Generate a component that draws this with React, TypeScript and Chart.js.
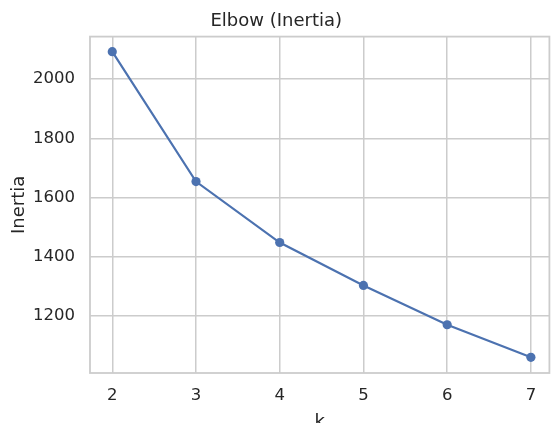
import React, { useEffect, useRef } from "react";
import { Chart, registerables } from "chart.js";

Chart.register(...registerables);

const kValues = [2, 3, 4, 5, 6, 7];
const inertia = [2093, 1654, 1448, 1303, 1170, 1060];
const xTicks = [2, 3, 4, 5, 6, 7];
const yTicks = [1200, 1400, 1600, 1800, 2000];

const TEXT = "#262626";
const GRID = "#cccccc";
const FONT = "'DejaVu Sans', sans-serif";

const framePlugin = {
  id: "frame",
  beforeDatasetsDraw(chart: any) {
    const { ctx, chartArea } = chart;
    ctx.save();
    ctx.strokeStyle = GRID;
    ctx.lineWidth = 1.8;
    ctx.strokeRect(chartArea.left, chartArea.top, chartArea.right - chartArea.left, chartArea.bottom - chartArea.top);
    ctx.restore();
  },
};

export default function App() {
  const ref = useRef<HTMLCanvasElement | null>(null);
  useEffect(() => {
    if (!ref.current) return;
    const chart = new Chart(ref.current, {
      type: "line",
      data: {
        datasets: [
          {
            data: kValues.map((k, i) => ({ x: k, y: inertia[i] })),
            borderColor: "#4c72b0",
            backgroundColor: "#4c72b0",
            borderWidth: 2.2,
            pointRadius: 4.6,
            pointHoverRadius: 4.6,
            pointBorderWidth: 0,
            tension: 0,
            clip: false as any,
          },
        ],
      },
      plugins: [framePlugin],
      options: {
        animation: false,
        responsive: false,
        layout: { padding: { left: 0, right: 1.5, top: 0, bottom: 0 } },
        plugins: {
          legend: { display: false },
          tooltip: { enabled: false },
          title: {
            display: true,
            text: "Elbow (Inertia)",
            color: TEXT,
            font: { family: FONT, size: 18, weight: "normal", lineHeight: 1.2 },
            padding: { top: 11, bottom: 4 },
          },
        },
        scales: {
          x: {
            type: "linear",
            min: 1.734,
            max: 7.221,
            afterBuildTicks: (s: any) => {
              s.ticks = xTicks.map((v) => ({ value: v }));
            },
            afterFit: (s: any) => {
              s.height = 50;
              s.paddingLeft = 0;
              s.paddingRight = 0;
            },
            grid: { color: GRID, lineWidth: 1.5, drawTicks: false },
            border: { display: false },
            ticks: {
              color: TEXT,
              padding: 13,
              font: { family: FONT, size: 16.5 },
              callback: (v: any) => String(v),
            },
            title: {
              display: true,
              text: "k",
              color: TEXT,
              font: { family: FONT, size: 18, lineHeight: 1.2 },
              padding: { top: 0, bottom: -10 },
            },
          },
          y: {
            type: "linear",
            min: 1007,
            max: 2144,
            afterBuildTicks: (s: any) => {
              s.ticks = yTicks.map((v) => ({ value: v }));
            },
            afterFit: (s: any) => {
              s.width = 90;
              s.paddingTop = 0;
              s.paddingBottom = 0;
            },
            grid: { color: GRID, lineWidth: 1.5, drawTicks: false },
            border: { display: false },
            ticks: {
              color: TEXT,
              padding: 15,
              font: { family: FONT, size: 16.5 },
              callback: (v: any) => String(v),
            },
            title: {
              display: true,
              text: "Inertia",
              color: TEXT,
              font: { family: FONT, size: 18, lineHeight: 1.2 },
              padding: { top: 8.3, bottom: 0 },
            },
          },
        },
      },
    });
    return () => chart.destroy();
  }, []);
  return (
    <div
      style={{
        position: "absolute",
        left: 0,
        top: 0,
        width: 551,
        height: 423,
        overflow: "hidden",
        background: "#fff",
      }}
    >
      <canvas ref={ref} width={554} height={423} style={{ display: "block", width: 554, height: 423 }} />
    </div>
  );
}
